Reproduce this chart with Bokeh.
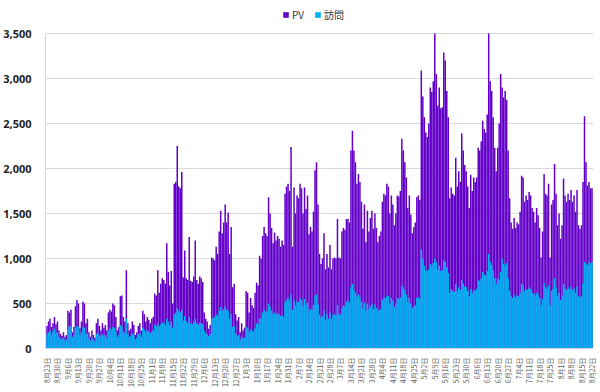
import math
from bokeh.plotting import figure
from bokeh.models import ColumnDataSource, FixedTicker, NumeralTickFormatter, Legend, LegendItem, Range1d
from bokeh.embed import file_html
from bokeh.resources import INLINE

# Daily page views (PV), 8/23 .. 8/22 (365 days), one row per week
pv = [
    250, 300, 330, 240, 280, 350, 270,
    300, 200, 160, 140, 180, 130, 150,
    420, 400, 430, 180, 240, 470, 540,
    500, 230, 300, 520, 500, 280, 330,
    180, 130, 200, 150, 120, 280, 330,
    250, 200, 280, 230, 260, 200, 400,
    430, 410, 500, 480, 350, 200, 240,
    580, 590, 350, 300, 870, 280, 200,
    220, 300, 260, 150, 180, 250, 280,
    200, 420, 380, 300, 350, 320, 280,
    330, 350, 610, 590, 870, 620, 720,
    780, 760, 720, 1170, 850, 700, 860,
    500, 1830, 1850, 2250, 1800, 1780, 1960,
    790, 1090, 780, 760, 1240, 750, 740,
    800, 1200, 760, 720, 800, 780, 740,
    400, 330, 300, 220, 260, 1010, 1000,
    980, 1130, 1050, 1300, 1530, 1280, 1400,
    1600, 1400, 1510, 1050, 1350, 680, 720,
    380, 310, 350, 180, 280, 200, 230,
    640, 620, 400, 560, 480, 450, 620,
    730, 700, 1030, 1000, 1250, 1350, 1280,
    1250, 1680, 1500, 1340, 1170, 1290, 1200,
    1250, 1220, 1130, 1200, 1150, 1720, 1800,
    1830, 1750, 2240, 1130, 1790, 1500, 1700,
    1670, 1830, 1780, 1500, 1790, 1550, 1700,
    1270, 1350, 1300, 1520, 1980, 2070, 1600,
    1050, 940, 1000, 1280, 880, 1050, 900,
    1150, 880, 1000, 1010, 1000, 1440, 1010,
    1000, 1300, 1340, 1320, 1440, 1440, 1400,
    2200, 2420, 2200, 2070, 1830, 1940, 1850,
    1630, 1330, 1600, 1180, 1530, 1300, 1450,
    1530, 1330, 1500, 1340, 1180, 1250, 1300,
    1630, 1720, 1700, 1830, 1800, 1500, 1700,
    1600, 1370, 1500, 1700, 1690, 1750, 2330,
    2200, 2070, 1900, 1560, 1700, 1490, 1280,
    1350, 1400, 1680, 1700, 1650, 3090, 2800,
    2570, 2400, 2350, 2500, 2900, 2850, 2970,
    3500, 3050, 2700, 2900, 2670, 2680, 3290,
    3200, 2860, 2570, 1670, 1790, 1720, 1700,
    2120, 1800, 1970, 1850, 2390, 2200, 2040,
    1970, 1800, 1560, 1930, 1750, 1900, 1850,
    1900, 2230, 2200, 2300, 2530, 2440, 2400,
    2600, 3500, 2970, 2860, 2570, 2230, 1970,
    2230, 2500, 3050, 2900, 2790, 2860, 2760,
    2200, 1670, 1400, 1330, 1450, 1340, 1400,
    1380, 1520, 1920, 1900, 1630, 1700, 1650,
    1740, 1700, 1560, 1520, 1400, 1560, 1480,
    1340, 1010, 1300, 1940, 1720, 1700, 1830,
    1010, 1600, 1650, 2050, 1720, 1370, 1500,
    1220, 1370, 1890, 1700, 1630, 1720, 1650,
    1760, 1630, 1700, 1520, 1760, 1370, 1330,
    1370, 1850, 2580, 2070, 1810, 1850, 1780,
    1780,
]

# Daily visits (訪問)
visits = [
    150, 180, 200, 160, 190, 220, 170,
    180, 130, 110, 100, 120, 90, 100,
    220, 250, 240, 130, 150, 230, 250,
    240, 150, 180, 240, 230, 160, 170,
    120, 90, 120, 100, 80, 160, 180,
    150, 130, 160, 140, 150, 120, 200,
    230, 210, 240, 230, 190, 130, 150,
    260, 250, 190, 170, 330, 160, 130,
    140, 170, 150, 100, 120, 160, 170,
    130, 230, 210, 180, 200, 190, 170,
    190, 200, 260, 250, 280, 250, 270,
    290, 280, 260, 330, 300, 260, 300,
    230, 380, 400, 450, 420, 400, 430,
    310, 360, 300, 290, 350, 280, 270,
    300, 330, 280, 260, 290, 280, 270,
    200, 170, 160, 140, 160, 330, 340,
    350, 380, 360, 420, 460, 420, 440,
    470, 430, 420, 330, 380, 240, 250,
    170, 140, 150, 100, 130, 110, 120,
    240, 230, 180, 210, 200, 190, 230,
    280, 270, 340, 330, 400, 430, 410,
    410, 500, 460, 420, 380, 400, 380,
    390, 380, 360, 370, 350, 510, 540,
    560, 530, 600, 430, 540, 480, 520,
    520, 560, 540, 470, 550, 480, 510,
    420, 440, 430, 480, 580, 600, 490,
    380, 340, 360, 420, 320, 380, 330,
    400, 330, 370, 380, 370, 480, 380,
    380, 450, 480, 470, 520, 540, 510,
    680, 720, 650, 620, 580, 600, 570,
    520, 450, 510, 420, 500, 440, 470,
    500, 440, 490, 450, 410, 430, 440,
    540, 570, 560, 590, 580, 500, 560,
    530, 460, 500, 560, 550, 570, 700,
    680, 650, 600, 520, 560, 500, 450,
    470, 480, 560, 570, 550, 1100, 1000,
    920, 870, 860, 880, 940, 920, 950,
    1000, 960, 880, 920, 860, 870, 980,
    960, 900, 840, 620, 660, 640, 630,
    720, 640, 680, 650, 760, 720, 690,
    680, 640, 580, 660, 620, 650, 640,
    660, 760, 750, 780, 850, 820, 810,
    860, 1050, 960, 930, 870, 780, 720,
    780, 760, 850, 1000, 940, 920, 950,
    780, 640, 580, 560, 600, 570, 590,
    580, 620, 720, 700, 640, 660, 650,
    680, 660, 620, 610, 580, 620, 600,
    560, 480, 550, 730, 680, 670, 700,
    480, 640, 660, 780, 680, 580, 620,
    540, 580, 720, 670, 650, 680, 660,
    690, 650, 670, 620, 690, 580, 570,
    580, 720, 960, 940, 930, 960, 950,
    960,
]

# Weekly tick labels (every 7th day starting 8/23)
tick_labels = [
    "8月23日", "8月30日", "9月6日", "9月13日", "9月20日", "9月27日", "10月4日",
    "10月11日", "10月18日", "10月25日", "11月1日", "11月8日", "11月15日", "11月22日",
    "11月29日", "12月6日", "12月13日", "12月20日", "12月27日", "1月3日", "1月10日",
    "1月17日", "1月24日", "1月31日", "2月7日", "2月14日", "2月21日", "2月28日",
    "3月7日", "3月14日", "3月21日", "3月28日", "4月4日", "4月11日", "4月18日",
    "4月25日", "5月2日", "5月9日", "5月16日", "5月23日", "5月30日", "6月6日",
    "6月13日", "6月20日", "6月27日", "7月4日", "7月11日", "7月18日", "7月25日",
    "8月1日", "8月8日", "8月15日", "8月22日",
]
y_ticks = [0, 500, 1000, 1500, 2000, 2500, 3000, 3500]

n = len(pv)
days = list(range(n))
tick_days = list(range(0, n, 7))

src = ColumnDataSource(dict(day=days, pv=pv, visits=visits))

# frame extends above 3,500 so the legend can sit inside it (above the top gridline)
p = figure(width=598, height=390, output_backend="svg", toolbar_location=None,
           x_range=Range1d(-1, n), y_range=Range1d(0, 3778),
           min_border_left=44, min_border_right=5, min_border_top=8, min_border_bottom=42)
p.outline_line_color = None
p.background_fill_color = "white"

r_pv = p.vbar(x="day", top="pv", width=1.0, source=src, fill_color="#6200c8", line_color=None)
r_vi = p.vbar(x="day", top="visits", width=1.0, source=src, fill_color="#00b0f0", line_color=None)

# y axis
p.yaxis.ticker = FixedTicker(ticks=y_ticks)
p.yaxis.bounds = (0, 3500)
p.yaxis.formatter = NumeralTickFormatter(format="0,0")
p.yaxis.major_label_text_font = "Open Sans"
p.yaxis.major_label_text_font_size = "11px"
p.yaxis.major_label_text_font_style = "bold"
p.yaxis.major_label_text_color = "#222222"
p.yaxis.axis_line_color = "#d9d9d9"
p.yaxis.major_tick_line_color = None
p.yaxis.minor_tick_line_color = None
p.yaxis.major_label_standoff = 8

# x axis
p.xaxis.ticker = FixedTicker(ticks=tick_days)
p.xaxis.major_label_overrides = {d: lab for d, lab in zip(tick_days, tick_labels)}
p.xaxis.major_label_orientation = math.pi / 2
p.xaxis.major_label_text_font = "Noto Sans CJK JP"
p.xaxis.major_label_text_font_size = "7px"
p.xaxis.major_label_text_color = "#5a5a5a"
p.xaxis.axis_line_color = "#d9d9d9"
p.xaxis.major_tick_line_color = None
p.xaxis.minor_tick_line_color = None
p.xaxis.major_label_standoff = 3

p.xgrid.grid_line_color = None
p.ygrid.grid_line_color = "#d9d9d9"
p.ygrid.grid_line_width = 1

legend = Legend(items=[LegendItem(label="PV", renderers=[r_pv]),
                       LegendItem(label="訪問", renderers=[r_vi])],
                orientation="horizontal", location=(237, 326),
                label_text_font="Noto Sans CJK JP", label_text_font_size="10px",
                label_text_color="#333333", glyph_width=7, glyph_height=7,
                label_height=12, label_width=13, label_standoff=3, spacing=9,
                padding=0, margin=0,
                border_line_color=None, background_fill_alpha=0)
p.add_layout(legend)

open("out.html", "w").write(file_html(p, INLINE))
